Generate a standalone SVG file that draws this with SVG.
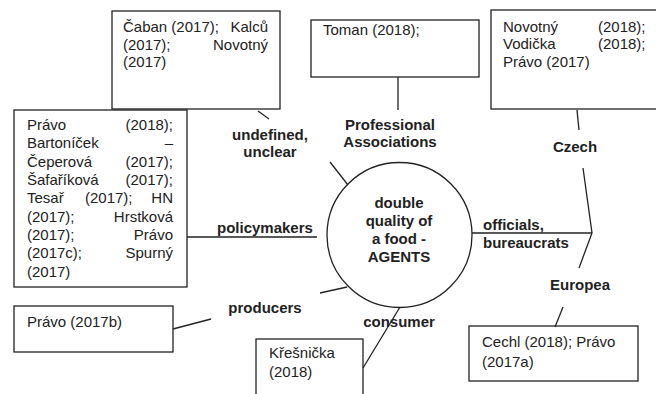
<svg xmlns="http://www.w3.org/2000/svg" width="656" height="394" viewBox="0 0 656 394">
<style>
.box{fill:#fff;stroke:#222;stroke-width:1.3}
.t{font-family:"Liberation Sans",Arial,sans-serif;font-size:15px;fill:#222}
.b{font-family:"Liberation Sans",Arial,sans-serif;font-size:15px;font-weight:bold;fill:#222}
.c line,.c polyline{stroke:#222;stroke-width:1.3;fill:none}
</style>
<rect width="656" height="394" fill="#fff"/>
<g id="caban"><rect class="box" x="112" y="11" width="168" height="98"/>
<text class="t" y="32"><tspan x="123">Čaban (2017);</tspan><tspan x="268" text-anchor="end">Kalců</tspan></text>
<text class="t" y="50"><tspan x="123">(2017);</tspan><tspan x="268" text-anchor="end">Novotný</tspan></text>
<text class="t" x="123" y="67">(2017)</text></g>
<g id="toman"><rect class="box" x="311" y="20" width="168" height="57"/>
<text class="t" x="323" y="35">Toman (2018);</text></g>
<g id="novotny"><rect class="box" x="491" y="10" width="170" height="99"/>
<text class="t" y="32"><tspan x="503">Novotný</tspan><tspan x="598">(2018);</tspan></text>
<text class="t" y="49"><tspan x="503">Vodička</tspan><tspan x="598">(2018);</tspan></text>
<text class="t" x="503" y="67">Právo (2017)</text></g>
<g id="pravo2018"><rect class="box" x="14" y="110" width="173" height="177"/>
<text class="t" y="130"><tspan x="27">Právo</tspan><tspan x="173" text-anchor="end">(2018);</tspan></text>
<text class="t" y="148"><tspan x="27">Bartoníček</tspan><tspan x="173" text-anchor="end">–</tspan></text>
<text class="t" y="167"><tspan x="27">Čeperová</tspan><tspan x="173" text-anchor="end">(2017);</tspan></text>
<text class="t" y="185"><tspan x="27">Šafaříková</tspan><tspan x="173" text-anchor="end">(2017);</tspan></text>
<text class="t" y="203"><tspan x="27">Tesař</tspan><tspan x="85">(2017);</tspan><tspan x="173" text-anchor="end">HN</tspan></text>
<text class="t" y="222"><tspan x="27">(2017);</tspan><tspan x="173" text-anchor="end">Hrstková</tspan></text>
<text class="t" y="240"><tspan x="27">(2017);</tspan><tspan x="173" text-anchor="end">Právo</tspan></text>
<text class="t" y="258"><tspan x="27">(2017c);</tspan><tspan x="173" text-anchor="end">Spurný</tspan></text>
<text class="t" x="27" y="277">(2017)</text></g>
<g id="pravo2017b"><rect class="box" x="14" y="306" width="159" height="46"/>
<text class="t" x="27" y="327">Právo (2017b)</text></g>
<g id="kresnicka"><rect class="box" x="256" y="339" width="107" height="60"/>
<text class="t" x="269" y="358">Křešnička</text>
<text class="t" x="269" y="377">(2018)</text></g>
<g id="cechl"><rect class="box" x="469" y="326" width="169" height="55"/>
<text class="t" x="482" y="347">Cechl (2018); Právo</text>
<text class="t" x="482" y="367">(2017a)</text></g>
<g id="center"><circle cx="399.5" cy="235" r="72.5" fill="#fff" stroke="#222" stroke-width="1.3"/>
<text class="b" text-anchor="middle" x="399" y="208">double</text>
<text class="b" text-anchor="middle" x="399" y="226">quality of</text>
<text class="b" text-anchor="middle" x="399" y="244">a food -</text>
<text class="b" text-anchor="middle" x="399" y="262">AGENTS</text></g>
<g class="c" id="connectors">
<line x1="258" y1="111" x2="269" y2="119"/>
<line x1="330" y1="162" x2="348" y2="185"/>
<line x1="398" y1="77" x2="398" y2="110"/>
<line x1="577" y1="110" x2="579" y2="130"/>
<polyline points="583,168 592,233 579,268"/>
<line x1="472" y1="233" x2="592" y2="233"/>
<line x1="563" y1="307" x2="555" y2="327"/>
<line x1="400" y1="307" x2="363" y2="368"/>
<line x1="320" y1="293" x2="347" y2="287"/>
<line x1="173" y1="329" x2="211" y2="319"/>
<line x1="187" y1="237" x2="317" y2="237"/>
</g>
<g id="labels">
<text class="b" text-anchor="middle" x="270" y="140">undefined,</text>
<text class="b" text-anchor="middle" x="270" y="157">unclear</text>
<text class="b" text-anchor="middle" x="390" y="130">Professional</text>
<text class="b" text-anchor="middle" x="390" y="147">Associations</text>
<text class="b" text-anchor="middle" x="575" y="152">Czech</text>
<text class="b" x="483" y="230">officials,</text>
<text class="b" x="483" y="248">bureaucrats</text>
<text class="b" text-anchor="middle" x="580" y="290">Europea</text>
<text class="b" text-anchor="middle" x="399" y="327">consumer</text>
<text class="b" text-anchor="middle" x="265" y="313">producers</text>
<text class="b" x="217" y="233">policymakers</text>
</g>
</svg>
